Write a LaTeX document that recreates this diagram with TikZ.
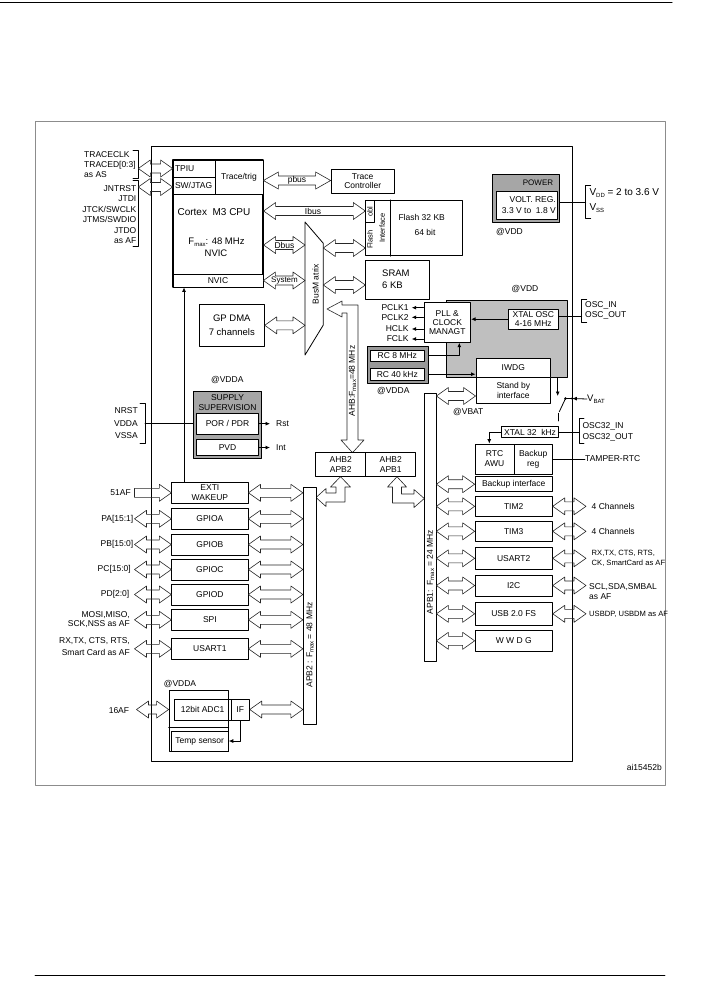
\documentclass[tikz,border=0pt]{standalone}
\usepackage{fontspec}
\setmainfont{Liberation Sans}
\usetikzlibrary{calc,arrows.meta}
\newcommand\lbl{\fontsize{8.5}{10.3}\selectfont}
\newcommand\lblbig{\fontsize{9.5}{11.5}\selectfont}
\newcommand\lblsm{\fontsize{7.5}{8.5}\selectfont}
\newcommand\lowtxt[1]{\raisebox{-0.3ex}{\fontsize{6}{6}\selectfont #1}}
% hollow bus arrow, heads at both ends
\newcommand\dbus[3][12pt]{%
  \coordinate (bA) at (#2); \coordinate (bB) at (#3);
  \coordinate (hA) at ($(bA)!#1!(bB)$); \coordinate (hB) at ($(bB)!#1!(bA)$);
  \draw[bus] (bA) -- ($(hA)!8.5pt!90:(bB)$) -- ($(hA)!4.5pt!90:(bB)$)
    -- ($(hB)!4.5pt!-90:(bA)$) -- ($(hB)!8.5pt!-90:(bA)$) -- (bB)
    -- ($(hB)!8.5pt!90:(bA)$) -- ($(hB)!4.5pt!90:(bA)$)
    -- ($(hA)!4.5pt!-90:(bB)$) -- ($(hA)!8.5pt!-90:(bB)$) -- cycle;}
% hollow bus arrow, head at the end only
\newcommand\sbus[3][12pt]{%
  \coordinate (bA) at (#2); \coordinate (bB) at (#3);
  \coordinate (hB) at ($(bB)!#1!(bA)$);
  \draw[bus] ($(bA)!4.5pt!90:(bB)$) -- ($(hB)!4.5pt!-90:(bA)$)
    -- ($(hB)!8.5pt!-90:(bA)$) -- (bB) -- ($(hB)!8.5pt!90:(bA)$)
    -- ($(hB)!4.5pt!90:(bA)$) -- ($(bA)!4.5pt!-90:(bB)$) -- cycle;}
\tikzset{
  blk/.style={draw, line width=0.8pt, inner sep=0pt, align=center, fill=white},
  txt/.style={inner sep=0pt, align=center},
  bus/.style={draw=black!85, line width=0.6pt},
}
\begin{document}
\begin{tikzpicture}[x=1pt, y=-1pt, font=\lbl, line join=round, line cap=round, >={Latex[length=4.5pt,width=4pt]}]
\useasboundingbox (0,0) rectangle (701,997);
% page rules and frame
\draw[line width=1pt] (0,2) -- (672,2);
\draw[line width=0.8pt] (35,975) -- (665,975);
\draw[black!45, line width=0.7pt] (35,121) rectangle (665,785);
\node[draw, line width=0.9pt, minimum width=421pt, minimum height=615pt] (chip) at (361.5,453.5) {};

% CPU
\node[blk, line width=1.2pt, minimum width=90pt, minimum height=127pt] (cpu) at (218,223.5) {};
\node[blk, minimum width=42pt, minimum height=17pt, text width=38pt, align=left] (tpiu) at (194,168.5) {TPIU};
\node[blk, minimum width=42pt, minimum height=17pt, text width=38pt, align=left] (jtag) at (194,185.5) {SW/JTAG};
\node[blk, minimum width=48pt, minimum height=34pt] (trig) at (239,177) {Trace/trig};
\node[blk, minimum width=90pt, minimum height=13pt] (nvic) at (218,280.5) {NVIC};
\node[txt, font=\fontsize{10}{12}\selectfont] (cputitle) at (214,212) {Cortex~ M3 CPU};
\node[txt, font=\lblbig] (cpufreq) at (216.5,242) {F\lowtxt{max}: 48 MHz};
\node[txt, font=\lblbig] (cpunvic) at (216,253) {NVIC};

% debug pins
\node[txt, anchor=west, align=left] (tracepins) at (84,164.5) {TRACECLK\\TRACED[0:3]\\as AS};
\node[txt, anchor=east, align=right, font=\fontsize{8.5}{10.4}\selectfont] (jtagpins) at (136.5,214.5) {JNTRST\\JTDI\\JTCK/SWCLK\\JTMS/SWDIO\\JTDO\\as AF};
\draw[line width=0.8pt] (133,150) -- (138.3,150) -- (138.3,178.7) -- (133,178.7);
\draw[line width=0.8pt] (133,180.5) -- (138.3,180.5) -- (138.3,246) -- (133,246);
\coordinate (trcbrk) at (138.3,168.5);
\coordinate (jtgbrk) at (138.3,187);
\dbus{trcbrk}{tpiu.west}
\dbus{jtgbrk}{jtgbrk -| jtag.west}

% trace controller
\node[blk, minimum width=63.3pt, minimum height=24pt, font=\fontsize{8.5}{9.6}\selectfont] (trc) at (362.7,181) {Trace\\Controller};
\dbus[15pt]{trig.east |- 0,180.5}{trc.west |- 0,180.5}
\node[txt] (pbuslbl) at (297,180.5) {pbus};

% bus matrix
\draw[line width=0.8pt] (305,222) -- (323.3,243.3) -- (323.3,325) -- (305,355) -- cycle;
\coordinate (bmw) at (305,0);
\coordinate (bme) at (323.3,0);
\node[txt, rotate=90] (bmlbl) at (315.5,284) {BusM atrix};

% flash
\node[blk, minimum width=97pt, minimum height=55.4pt] (flash) at (414.2,228) {};
\node[blk, minimum width=8.3pt, minimum height=22.4pt] (obl) at (369.85,211.5) {};
\node[txt, rotate=90, font=\lblsm] (obllbl) at (obl) {obl};
\draw[line width=0.8pt] (390.7,0 |- flash.north) -- (390.7,0 |- flash.south);
\node[txt, rotate=90, font=\lblsm] (flashlbl) at (370,239.5) {Flash};
\node[txt, rotate=90, font=\lblsm] (iflbl) at (382.3,228) {Interface};
\node[txt] (flashsz) at (421.7,217.3) {Flash 32 KB};
\node[txt] (flashw) at (425,232.3) {64 bit};
\dbus{cpu.east |- 0,211}{flash.west |- 0,211}
\node[txt] (ibuslbl) at (313,211) {Ibus};
\dbus{bme |- 0,248}{flash.west |- 0,248}

% SRAM and DMA
\node[blk, minimum width=63.6pt, minimum height=39pt] (sram) at (397.5,279.5) {};
\node[txt, anchor=west, align=left, font=\lblbig] (sramlbl) at (382,279) {SRAM\\6 KB};
\dbus{bme |- 0,285}{sram.west |- 0,285}
\dbus{cpu.east |- 0,245}{bmw |- 0,245}
\node[txt] (dbuslbl) at (284.5,245) {Dbus};
\dbus{nvic.east}{bmw |- nvic.east}
\node[txt, font=\fontsize{8}{9}\selectfont] (syslbl) at (284.5,280.5) {System};
\node[blk, font=\lblbig, minimum width=65pt, minimum height=42.7pt] (dma) at (231.8,325.3) {GP DMA\\[3pt]7 channels};
\dbus{dma.east}{bmw |- dma.east}

% AHB bus and bridges
\draw[bus] (327,309) -- (342,301) -- (342,305) -- (358,305) -- (358,440) -- (364,440)
  -- (352.5,452.7) -- (341,440) -- (347,440) -- (347,313) -- (342,313) -- (342,317) -- cycle;
\node[txt, rotate=90] (ahblbl) at (352.5,381) {AHB:F\lowtxt{max}=48 MHz};
\node[blk, minimum width=50pt, minimum height=24pt, font=\fontsize{8.5}{10}\selectfont] (ahbl) at (340.7,464.7) {AHB2\\APB2};
\node[blk, minimum width=50pt, minimum height=24pt, font=\fontsize{8.5}{10}\selectfont] (ahbr) at (390.7,464.7) {AHB2\\APB1};
\draw[bus] (340.5,476.7) -- (350.5,487) -- (345,487) -- (345,502) -- (326,502) -- (326,506.5)
  -- (316,497.5) -- (326,488.5) -- (326,493) -- (336,493) -- (336,487) -- (330.5,487) -- cycle;
\draw[bus] (397,476.7) -- (406.5,487) -- (401.5,487) -- (401.5,494) -- (414,494) -- (414,489.5)
  -- (424.3,498.5) -- (414,507.5) -- (414,503) -- (392.5,503) -- (392.5,487) -- (387.5,487) -- cycle;

% APB buses
\node[blk, minimum width=12.7pt, minimum height=237pt] (apb2) at (309.65,605.8) {};
\node[txt, rotate=90] (apb2lbl) at (310,645) {APB2 : F\lowtxt{max} = 48 MHz};
\node[blk, minimum width=11.7pt, minimum height=268.4pt] (apb1) at (430.15,527.5) {};
\node[txt, rotate=90] (apb1lbl) at (430.5,572) {APB1:\ \ F\lowtxt{max} = 24 MHz};

% power
\node[blk, fill=black!35, minimum width=66.6pt, minimum height=47.6pt] (pwr) at (526,198.5) {};
\node[txt, font=\fontsize{8}{9}\selectfont] (pwrlbl) at (538,182.5) {POWER};
\node[blk, minimum width=61.3pt, minimum height=27.7pt] (vreg) at (526.7,205.2) {};
\node[txt, anchor=east, align=right] (vreglbl) at (556,205) {VOLT. REG.\\3.3 V to\ \ 1.8 V};
\node[txt, anchor=west] (vddpow) at (496,232.3) {@VDD};
\coordinate (pwrbrk) at (585.7,202);
\draw[line width=0.8pt] (pwrbrk -| pwr.east) -- (pwrbrk);
\draw[line width=0.8pt] (590.7,185.7) -- (585.7,185.7) -- (585.7,218.7) -- (590.7,218.7);
\node[txt, anchor=west, font=\fontsize{10}{12}\selectfont] (vddlbl) at (589.3,193) {V\lowtxt{DD} = 2 to 3.6 V};
\node[txt, anchor=west, font=\fontsize{10}{12}\selectfont] (vsslbl) at (589.3,208) {V\lowtxt{SS}};

% clocks
\node[draw, line width=0.8pt, fill=black!25, minimum width=121pt, minimum height=76.6pt] (clk) at (507.2,339) {};
\node[txt] (vddclk) at (525,289.3) {@VDD};
\node[blk, minimum width=46.7pt, minimum height=39.6pt, font=\fontsize{8.5}{9.2}\selectfont] (pll) at (447.3,322.5) {PLL \&\\CLOCK\\MANAGT};
\node[blk, minimum width=50pt, minimum height=20.3pt, font=\fontsize{8.5}{8.7}\selectfont] (xtal) at (533.3,319.2) {XTAL OSC\\4-16 MHz};
\draw[->, line width=0.8pt] (xtal.west) -- (xtal.west -| pll.east);
\coordinate (oscbrk) at (581.7,316.7);
\draw[line width=0.8pt] (oscbrk -| xtal.east) -- (oscbrk);
\draw[line width=0.8pt] (586.7,299) -- (581.7,299) -- (581.7,322.7) -- (586.7,322.7);
\node[txt, anchor=west, align=left, font=\fontsize{8.5}{10}\selectfont] (osclbl) at (585,310) {OSC\_IN\\OSC\_OUT};
\foreach \nm/\txt/\yy in {pclka/PCLK1/307.7, pclkb/PCLK2/317.3, hclk/HCLK/329, fclk/FCLK/339}{
  \node[txt, anchor=east, inner xsep=3pt] (\nm) at (411.7,\yy) {\txt};
  \draw[->, line width=0.8pt] (pll.west |- \nm.east) -- (\nm.east);
}
\node[draw, line width=1pt, fill=black!40, minimum width=60.6pt, minimum height=36.6pt] (rcbox) at (398,365) {};
\node[blk, minimum width=53.3pt, minimum height=11.7pt] (rc8) at (397.3,355.8) {RC 8 MHz};
\node[blk, minimum width=53.3pt, minimum height=11.7pt] (rc40) at (397.3,374.2) {RC 40 kHz};
\node[txt] (vddarc) at (393.3,390.7) {@VDDA};
\node[blk, minimum width=74.7pt, minimum height=19pt] (iwdg) at (513.3,367.8) {IWDG};
\node[blk, minimum width=74.7pt, minimum height=26pt] (stby) at (513.3,390.3) {Stand by\\interface};
\draw[->, line width=0.8pt] (rcbox.east |- rc8.east) -| ($(pll.south)+(12pt,0)$);
\draw[->, line width=0.8pt] (rcbox.east |- rc40.east) -- (rc40.east -| iwdg.west);
\node[txt] (vbatlbl) at (468.3,412.3) {@VBAT};
\dbus{apb1.east |- 0,396}{stby.west |- 0,396}

% backup domain
\coordinate (vbatpt) at (572.3,398.5);
\coordinate (swpt) at (565.5,398.5);
\draw[->, line width=0.8pt] (557.7,0 |- clk.south) -- (557.7,396);
\fill (swpt) circle (1.4pt);
\fill (vbatpt) circle (1.4pt);
\draw[line width=0.8pt] (swpt) -- (vbatpt);
\draw[line width=0.8pt] (swpt) -- (559.3,411.7);
\draw[line width=0.8pt] (558.3,413.3) -- (558.3,421);
\node[txt, anchor=west, font=\fontsize{9.5}{11}\selectfont] (vbat) at (587,399) {V\lowtxt{BAT}};
\draw[->, line width=0.8pt] (vbat.west) -- (vbatpt);
\node[blk, minimum width=56.6pt, minimum height=10.6pt] (xtal32) at (530,432) {XTAL 32\ \ kHz};
\coordinate (osc32brk) at (579,432);
\draw[line width=0.8pt] (xtal32.east) -- (osc32brk);
\draw[line width=0.8pt] (584,418.3) -- (579,418.3) -- (579,443.3) -- (584,443.3);
\node[txt, anchor=west, align=left, font=\fontsize{8.5}{10.6}\selectfont] (osc32lbl) at (582.3,432) {OSC32\_IN\\OSC32\_OUT};
\node[blk, minimum width=39pt, minimum height=30pt, font=\fontsize{8.5}{10}\selectfont] (rtc) at (494.5,459) {RTC\\AWU};
\node[blk, minimum width=38.3pt, minimum height=30pt, font=\fontsize{8.5}{10}\selectfont] (bkreg) at (533.2,459) {Backup\\reg};
\draw[->, line width=0.8pt] (xtal32.west) -| (489.3,0 |- rtc.north);
\node[txt, anchor=west] (tamper) at (585,459) {TAMPER-RTC};
\draw[line width=0.8pt] (bkreg.east) -- (tamper.west);

% APB1 peripherals
\foreach \nm/\txt/\yy/\hh in {bkif/Backup interface/484.2/15, tim2/TIM2/506.3/20.7, tim3/TIM3/531.3/20.7,
  usart2/USART2/558.3/21.3, i2c/I2C/585.5/21, usb/USB 2.0 FS/613.8/22.3, wwdg/W W D G/640.8/21.7}{
  \node[blk, minimum width=77.3pt, minimum height=\hh pt] (\nm) at (513.7,\yy) {\txt};
  \dbus{apb1.east |- \nm.west}{\nm.west}
}
\foreach \nm in {tim2,tim3,usart2,i2c,usb}{
  \dbus{\nm.east}{586,0 |- \nm.east}
}
\node[txt, anchor=west] (tim2pins) at (591.5,506.3) {4 Channels};
\node[txt, anchor=west] (tim3pins) at (591.5,531.3) {4 Channels};
\node[txt, anchor=west, align=left, font=\fontsize{7.6}{9.7}\selectfont] (usart2pins) at (591.5,558) {RX,TX, CTS, RTS,\\CK, SmartCard as AF};
\node[txt, anchor=west, align=left, font=\fontsize{8.5}{9.7}\selectfont] (i2cpins) at (589,591.8) {SCL,SDA,SMBAL\\as AF};
\node[txt, anchor=west, font=\fontsize{7.6}{9}\selectfont] (usbpins) at (589,614) {USBDP, USBDM as AF};

% APB2 peripherals
\node[blk, minimum width=76.3pt, minimum height=21pt, font=\fontsize{8.5}{9.4}\selectfont] (exti) at (209.9,492.8) {EXTI\\WAKEUP};
\sbus{134.5,0 |- exti.west}{exti.west}
\dbus{exti.east}{apb2.west |- exti.east}
\foreach \nm/\txt/\yy/\hh in {gpioa/GPIOA/518.8/21, gpiob/GPIOB/544.5/21, gpioc/GPIOC/569.5/21,
  gpiod/GPIOD/594.5/21, spi/SPI/619.8/21.7, usarta/USART1/648.8/21}{
  \node[blk, minimum width=76.3pt, minimum height=\hh pt] (\nm) at (209.9,\yy) {\txt};
  \dbus{134.5,0 |- \nm.west}{\nm.west}
  \dbus{\nm.east}{apb2.west |- \nm.east}
}
\node[txt, anchor=east] (extipins) at (131,493) {51AF};
\node[txt, anchor=east] (gpioapins) at (133.5,518.8) {PA[15:1]};
\node[txt, anchor=east] (gpiobpins) at (133.5,544.5) {PB[15:0]};
\node[txt, anchor=east] (gpiocpins) at (131,569.5) {PC[15:0]};
\node[txt, anchor=east] (gpiodpins) at (129.5,594.5) {PD[2:0]};
\node[txt, anchor=east, align=right, font=\fontsize{8.5}{9.4}\selectfont] (spipins) at (130,619.7) {MOSI,MISO,\\SCK,NSS as AF};
\node[txt, anchor=east, align=right, font=\fontsize{8.5}{11.6}\selectfont] (usartapins) at (130,646.5) {RX,TX, CTS, RTS,\\Smart Card as AF};

% ADC
\node[draw, line width=0.8pt, minimum width=59.3pt, minimum height=61pt] (adcbox) at (198.7,721.2) {};
\draw[line width=0.8pt] (adcbox.west |- 0,727) -- (adcbox.east |- 0,727);
\node[blk, fill=none, minimum width=56.7pt, minimum height=21pt] (adc) at (202.7,709.5) {12bit ADC1};
\node[blk, minimum width=18.3pt, minimum height=21pt] (ifb) at (240.2,709.5) {IF};
\node[blk, minimum width=57.3pt, minimum height=20pt] (temp) at (199.7,741) {Temp sensor};
\node[txt] (vddaadc) at (180,684.3) {@VDDA};
\draw[->, line width=0.8pt] (ifb.south) |- (temp.east);
\node[txt, anchor=east] (adcpins) at (129.3,710.5) {16AF};
\dbus{136.5,0 |- adc.west}{adcbox.west |- adc.west}
\dbus{ifb.east}{apb2.west |- ifb.east}

% supply supervision
\node[draw, line width=0.8pt, fill=black!35, minimum width=68.4pt, minimum height=67.3pt] (supply) at (227.5,424.7) {};
\node[txt, font=\fontsize{8.5}{9.6}\selectfont] (supplylbl) at (227.5,402.5) {SUPPLY\\SUPERVISION};
\node[blk, minimum width=61.6pt, minimum height=20.7pt] (por) at (227.5,423.7) {POR / PDR};
\node[blk, minimum width=61.6pt, minimum height=16.4pt] (pvd) at (227.5,447.5) {PVD};
\node[txt] (vddasup) at (227.3,380) {@VDDA};
\node[txt, anchor=west, inner xsep=6pt] (rstlbl) at (270,423.7) {Rst};
\node[txt, anchor=west, inner xsep=6pt] (intlbl) at (270,447.5) {Int};
\draw[->, line width=0.8pt] (por.east) -- (rstlbl.west);
\draw[->, line width=0.8pt] (pvd.east) -- (intlbl.west);
\node[txt, anchor=east, align=right, font=\fontsize{8.5}{12.5}\selectfont] (rstpins) at (138,423.3) {NRST\\VDDA\\VSSA};
\draw[line width=0.8pt] (140,403.3) -- (145,403.3) -- (145,443.3) -- (140,443.3);
\coordinate (rstbrk) at (145,423.3);
\draw[line width=0.8pt] (rstbrk) -- (rstbrk -| supply.west);

% interrupt line to the NVIC
\draw[->, line width=0.8pt] (184,0 |- exti.north) -- (184,0 |- nvic.south);

\node[txt, anchor=east] (figid) at (662,767.5) {ai15452b};
\end{tikzpicture}
\end{document}
